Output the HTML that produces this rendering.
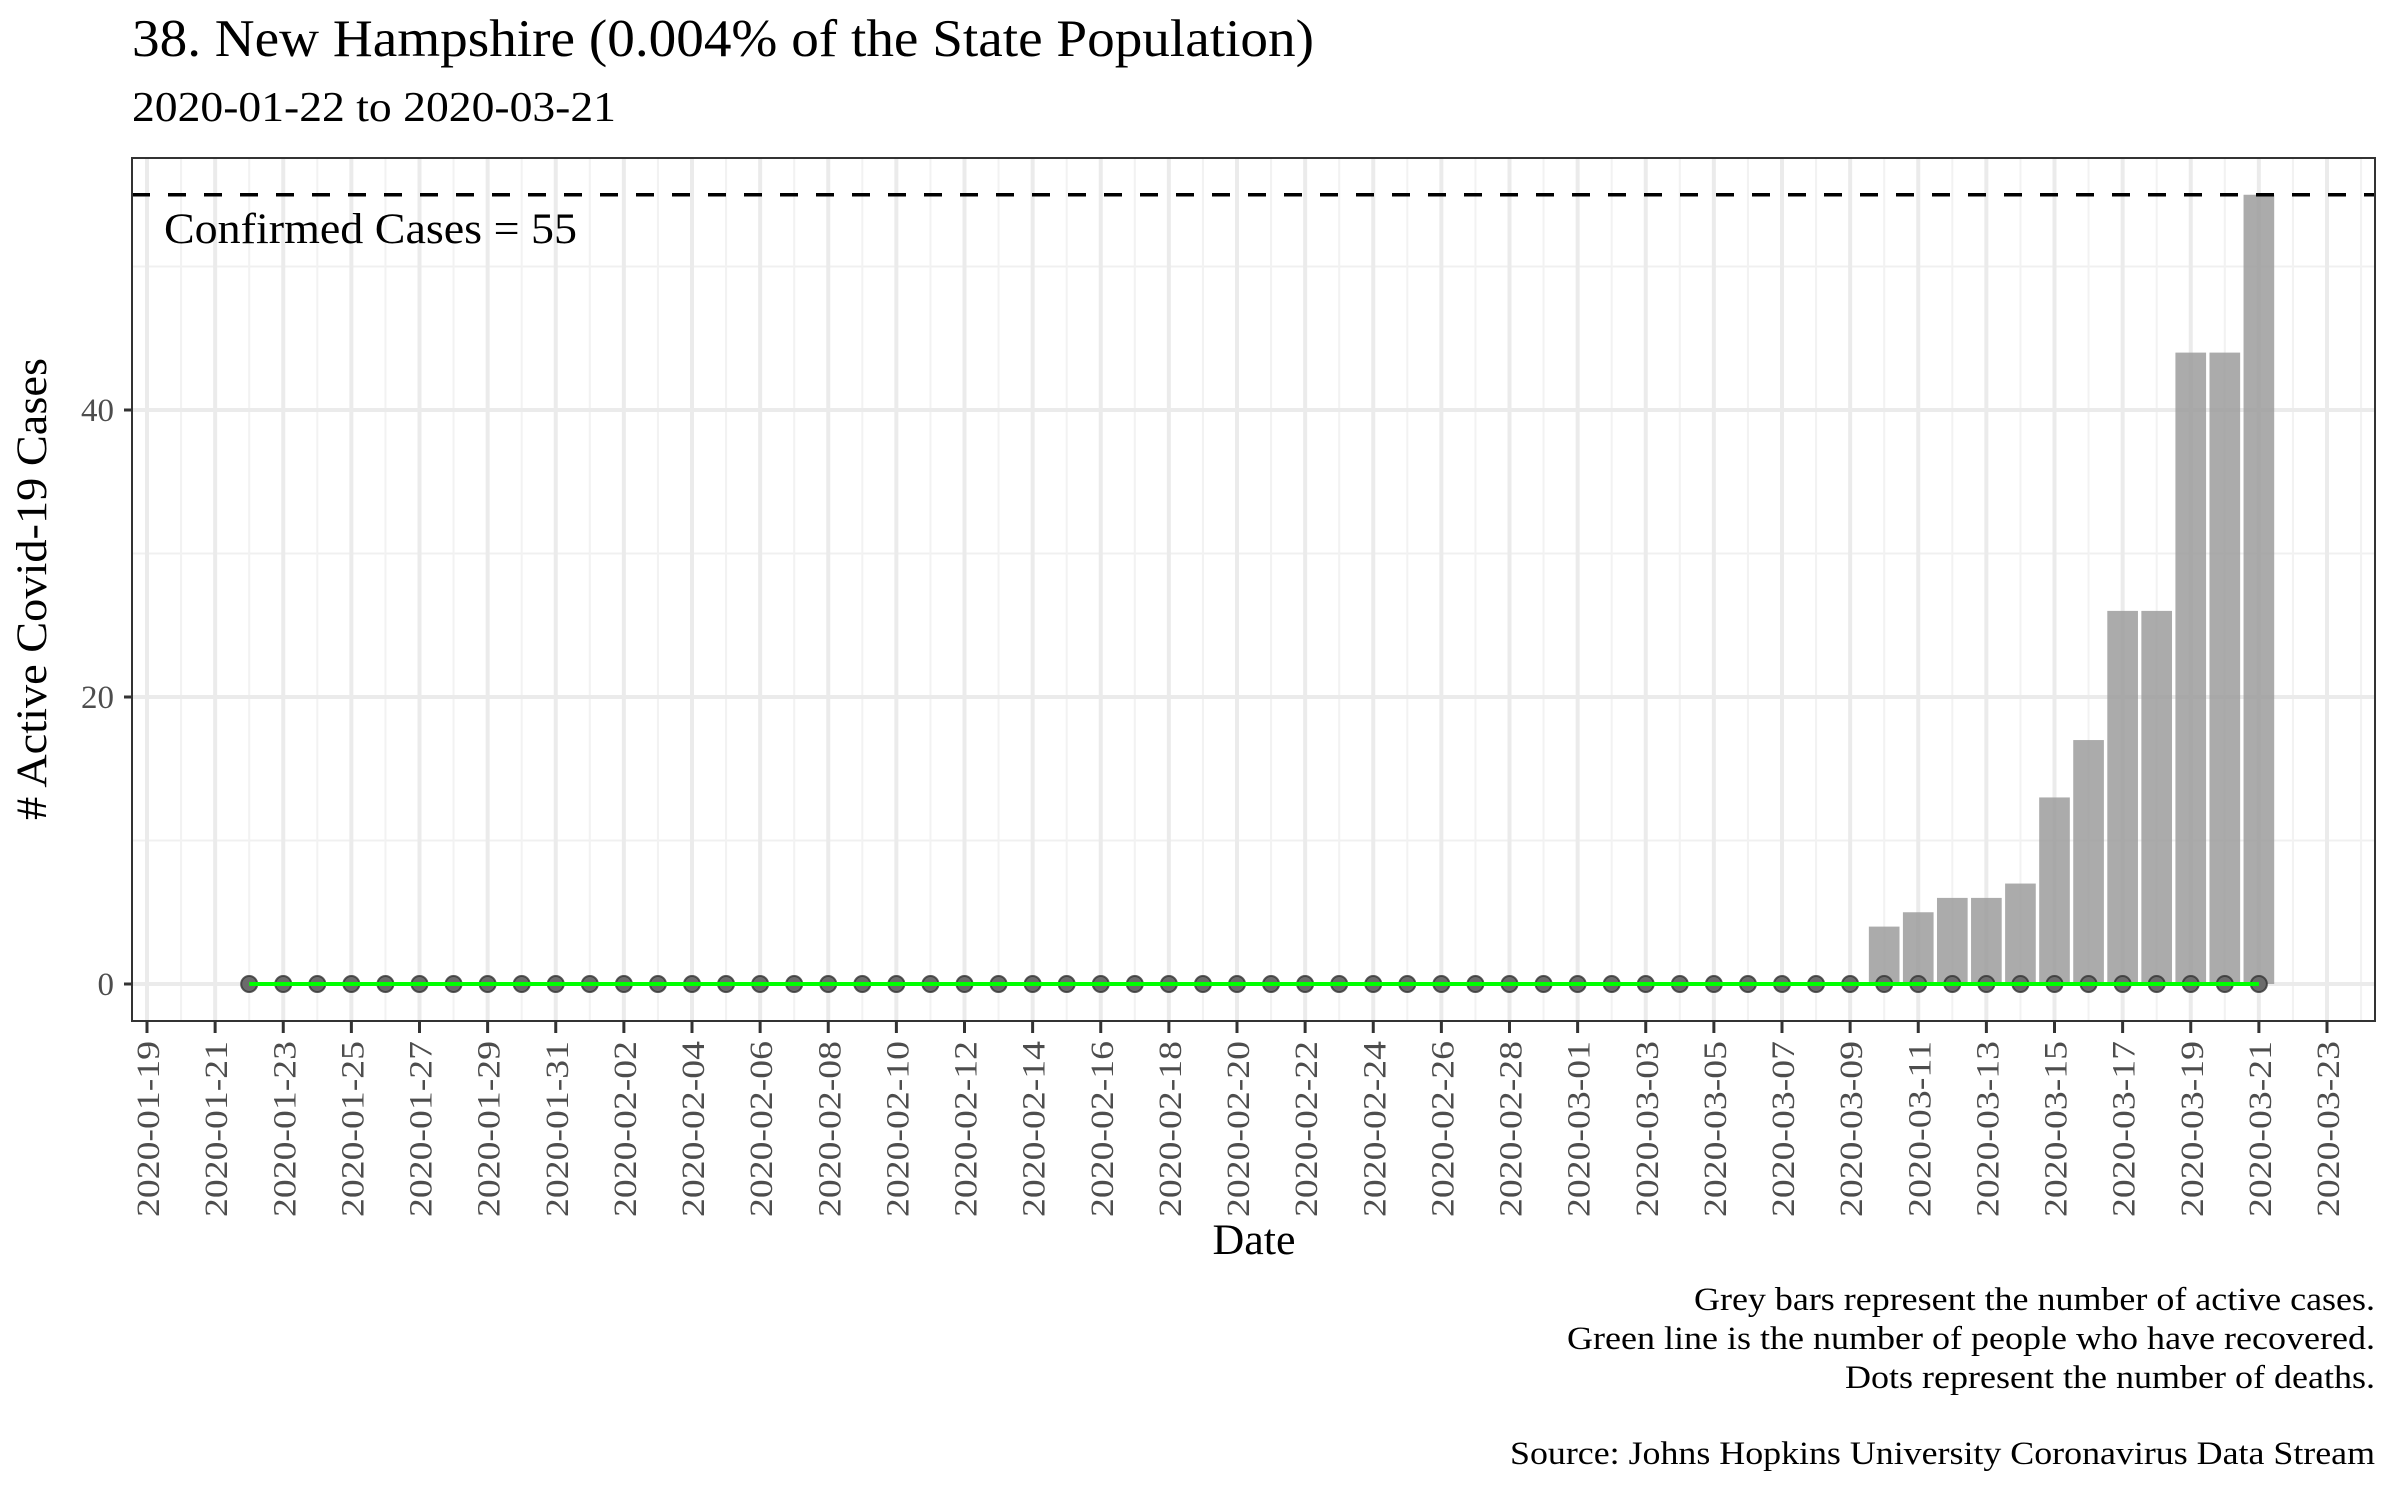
<!DOCTYPE html>
<html><head><meta charset="utf-8"><style>
html,body{margin:0;padding:0;background:#fff}
svg{display:block;font-family:"Liberation Serif",serif}
</style></head><body>
<svg id="chart" width="2400" height="1500" viewBox="0 0 2400 1500">
<text x="132" y="56" font-size="53" textLength="1182" lengthAdjust="spacingAndGlyphs" fill="#000">38. New Hampshire (0.004% of the State Population)</text>
<text x="132" y="121" font-size="42" textLength="484" lengthAdjust="spacingAndGlyphs" fill="#000">2020-01-22 to 2020-03-21</text>
<g id="grid"></g><g id="marks"></g><g id="axes"></g>
<text x="1254" y="1254" font-size="43" textLength="83" lengthAdjust="spacingAndGlyphs" text-anchor="middle" fill="#000">Date</text>
<text transform="translate(46,589) rotate(-90)" font-size="43" textLength="462" lengthAdjust="spacingAndGlyphs" text-anchor="middle" fill="#000"># Active Covid-19 Cases</text>
<g font-size="33" text-anchor="end" fill="#000">
<text x="2375" y="1310" textLength="681" lengthAdjust="spacingAndGlyphs">Grey bars represent the number of active cases.</text>
<text x="2375" y="1349" textLength="808" lengthAdjust="spacingAndGlyphs">Green line is the number of people who have recovered.</text>
<text x="2375" y="1388" textLength="530" lengthAdjust="spacingAndGlyphs">Dots represent the number of deaths.</text>
<text x="2375" y="1464" textLength="865" lengthAdjust="spacingAndGlyphs">Source: Johns Hopkins University Coronavirus Data Stream</text>
</g>
</svg>
<script>
const startDate = "2020-01-22";
const active = [0,0,0,0,0,0,0,0,0,0, 0,0,0,0,0,0,0,0,0,0, 0,0,0,0,0,0,0,0,0,0, 0,0,0,0,0,0,0,0,0,0, 0,0,0,0,0,0,0,0,4,5, 6,6,7,13,17,26,26,44,44,55];
const recovered = new Array(60).fill(0);
const deaths = new Array(60).fill(0);
const confirmed = 55;
const yTicks = [0,20,40];
const yMinor = [10,30,50];

const NS="http://www.w3.org/2000/svg";
const L=132,R=2375,T=158,B=1021;
const DAY=86400000, t0=Date.UTC(2020,0,19), pxDay=(2327-147)/64;
const x=d=>147+(d-t0)/DAY*pxDay;
const y=v=>984-v*14.35;
const s0=Date.parse(startDate+"T00:00:00Z");
function el(tag,attrs,parent){const e=document.createElementNS(NS,tag);for(const k in attrs)e.setAttribute(k,attrs[k]);parent.appendChild(e);return e;}
const grid=document.getElementById('grid'),marks=document.getElementById('marks'),axes=document.getElementById('axes');
const bg=el('rect',{x:L,y:T,width:R-L,height:B-T,fill:'#fff'},grid);


yMinor.forEach(v=>{const g=el('line',{x1:L,x2:R,y1:y(v),y2:y(v),stroke:'#f0f0f0','stroke-width':2},grid);

});
for(let i=-1;i<=66;i++){const xx=x(t0+i*DAY);if(xx<L||xx>R)continue;const major=i%2===0;
const g=el('line',{x1:xx,x2:xx,y1:T,y2:B,stroke:major?'#ebebeb':'#f2f2f2','stroke-width':major?4:2},grid);

}
yTicks.forEach(v=>{const g=el('line',{x1:L,x2:R,y1:y(v),y2:y(v),stroke:'#ebebeb','stroke-width':4},grid);

});
const bw=pxDay*0.9;
active.forEach((v,i)=>{if(v<=0)return;const cx=x(s0+i*DAY);
const b=el('rect',{x:cx-bw/2,y:y(v),width:bw,height:y(0)-y(v),fill:'#999','fill-opacity':0.82},marks);

});
deaths.forEach((v,i)=>{const c=el('circle',{cx:x(s0+i*DAY),cy:y(v),r:8,fill:'#6b6b6b',stroke:'#333','stroke-opacity':0.8,'stroke-width':2},marks);

});
const pts=recovered.map((v,i)=>x(s0+i*DAY)+','+y(v)).join(' ');
const ln=el('polyline',{points:pts,fill:'none',stroke:'#00ff00','stroke-width':4},marks);


const dl=el('line',{x1:L,x2:R,y1:y(confirmed),y2:y(confirmed),stroke:'#000','stroke-width':3.5,'stroke-dasharray':'18 18'},marks);


const ct=el('text',{x:164,y:y(confirmed)+48,'font-size':43,textLength:413,lengthAdjust:'spacingAndGlyphs',fill:'#000'},marks);
ct.textContent='Confirmed Cases = '+confirmed;


const fr=el('rect',{x:L,y:T,width:R-L,height:B-T,fill:'none',stroke:'#333','stroke-width':2},axes);


yTicks.forEach(v=>{const tk=el('line',{x1:L-8,x2:L,y1:y(v),y2:y(v),stroke:'#333','stroke-width':3},axes);


const t=el('text',{x:L-18,y:y(v)+11,'font-size':33,'text-anchor':'end',fill:'#4d4d4d'},axes);t.textContent=v;

});
for(let i=0;i<=64;i+=2){const d=t0+i*DAY;const xx=x(d);
const tk=el('line',{x1:xx,x2:xx,y1:B,y2:B+12,stroke:'#333','stroke-width':3},axes);


const lab=new Date(d).toISOString().slice(0,10);
const t=el('text',{transform:`translate(${xx+12},${B+20}) rotate(-90)`,'font-size':33,textLength:176,lengthAdjust:'spacingAndGlyphs','text-anchor':'end',fill:'#4d4d4d'},axes);t.textContent=lab;

}
</script>
</body></html>
